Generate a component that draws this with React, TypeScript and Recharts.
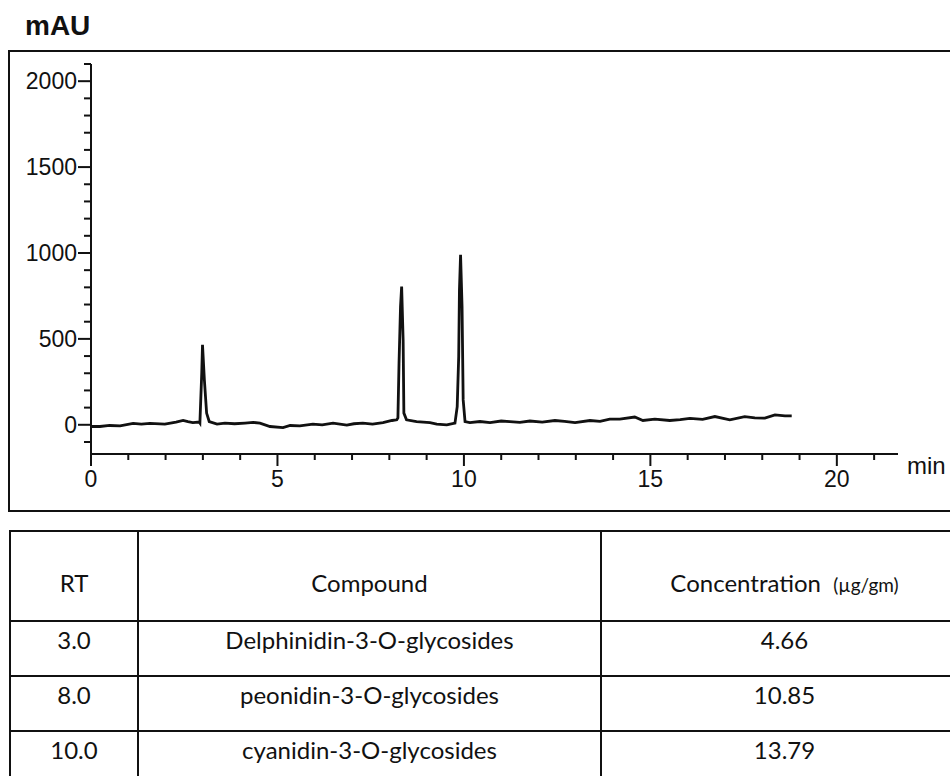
import React from 'react';
import { LineChart, Line, XAxis, YAxis } from 'recharts';

// retention time (min) and detector signal (mAU)
const times = [
  0, 0.24, 0.5, 0.78, 1.13, 1.35, 1.58, 1.98, 2.28, 2.47, 2.6, 2.73, 2.9,
  2.92, 2.97, 2.99, 3.04, 3.1, 3.17, 3.38, 3.59, 3.85, 4.13, 4.35, 4.53,
  4.8, 5.15, 5.34, 5.6, 5.95, 6.2, 6.49, 6.86, 7.05, 7.29, 7.55, 7.83, 8.07,
  8.2, 8.23, 8.26, 8.3, 8.33, 8.37, 8.39, 8.46, 8.73, 9.09,
  9.27, 9.54, 9.76, 9.82, 9.86, 9.88, 9.91, 9.95, 9.98, 10.03,
  10.16, 10.43, 10.7, 11.0, 11.23, 11.5, 11.77, 12.1, 12.44, 12.7, 12.98, 13.38, 13.65, 13.91, 14.18,
  14.58, 14.8, 15.12, 15.52, 15.8, 16.06, 16.4, 16.73, 17.13, 17.53, 17.8, 18.07, 18.34,
  18.61, 18.79,
];
const signal = [
  -10, -10, -4, -6, 8, 4, 8, 4, 16, 25, 18, 13, 16,
  10, 302, 465, 262, 68, 19, 4, 10, 6, 10, 14, 10,
  -10, -16, -4, -6, 4, 0, 10, -2, 6, 10, 4, 13, 25,
  29, 40, 359, 688, 804, 494, 68, 29, 19, 13,
  4, 0, 10, 106, 397, 785, 990, 688, 145, 19,
  13, 19, 13, 22, 19, 14, 22, 16, 25, 20, 13, 25, 20, 33, 33,
  45, 25, 33, 25, 30, 37, 32, 48, 29, 48, 40, 39, 58,
  52, 52,
];

const xTicks = [0, 1, 2, 3, 4, 5, 6, 7, 8, 9, 10, 11, 12, 13, 14, 15, 16, 17, 18, 19, 20, 21];
const yTicks = [
  -100, 0, 100, 200, 300, 400, 500, 600, 700, 800, 900, 1000,
  1100, 1200, 1300, 1400, 1500, 1600, 1700, 1800, 1900, 2000, 2100,
];

const rtValues = ['3.0', '8.0', '10.0'];
const compounds = [
  'Delphinidin-3-O-glycosides',
  'peonidin-3-O-glycosides',
  'cyanidin-3-O-glycosides',
];
const concentrations = ['4.66', '10.85', '13.79'];

const data = times.map((t, i) => ({ t, mAU: signal[i] }));

const ink = '#111';
const axisFont = '"Liberation Sans", Arial, sans-serif';
const tableFont = 'Lato, "Open Sans", sans-serif';

const YTick = (props: any) => {
  const { x, y, payload } = props;
  const major = payload.value % 500 === 0;
  return (
    <g>
      <line x1={x - (major ? 13 : 7)} x2={x} y1={y} y2={y} stroke={ink} strokeWidth={2} />
      {major && (
        <text x={x - 14} y={y + 8} textAnchor="end" fontFamily={axisFont} fontSize={23} fill={ink}>
          {payload.value}
        </text>
      )}
    </g>
  );
};

const XTick = (props: any) => {
  const { x, y, payload } = props;
  const major = payload.value % 5 === 0;
  return (
    <g>
      <line x1={x} x2={x} y1={y} y2={y + (major ? 12 : 6)} stroke={ink} strokeWidth={2} />
      {major && (
        <text x={x} y={y + 33} textAnchor="middle" fontFamily={axisFont} fontSize={23} fill={ink}>
          {payload.value}
        </text>
      )}
    </g>
  );
};

const cell: React.CSSProperties = {
  border: '2px solid #111',
  textAlign: 'center',
  padding: 0,
};

export default function App() {
  return (
    <div
      style={{
        position: 'absolute',
        left: 0,
        top: 0,
        width: 950,
        height: 776,
        overflow: 'hidden',
        background: '#fff',
      }}
    >
      {/* frame around the chromatogram */}
      <div
        style={{
          position: 'absolute',
          left: 8,
          top: 50,
          width: 1000,
          height: 458,
          border: '2px solid #111',
        }}
      />
      <div style={{ position: 'absolute', left: 0, top: 0 }}>
        <LineChart width={950} height={510} data={data} margin={{ top: 64, right: 52, left: 0, bottom: 0 }}>
          <XAxis
            dataKey="t"
            type="number"
            domain={[0, 21.64]}
            ticks={xTicks}
            interval={0}
            height={56}
            tickSize={0}
            tickMargin={0}
            tickLine={false}
            tick={<XTick />}
            axisLine={{ stroke: ink, strokeWidth: 2 }}
            allowDataOverflow
          />
          <YAxis
            type="number"
            domain={[-170, 2100]}
            ticks={yTicks}
            interval={0}
            width={91}
            tickSize={0}
            tickMargin={0}
            tickLine={false}
            tick={<YTick />}
            axisLine={{ stroke: ink, strokeWidth: 2 }}
            allowDataOverflow
          />
          <Line
            type="linear"
            dataKey="mAU"
            stroke={ink}
            strokeWidth={2.8}
            dot={false}
            isAnimationActive={false}
          />
        </LineChart>
      </div>
      <svg width={950} height={510} style={{ position: 'absolute', left: 0, top: 0, pointerEvents: 'none' }}>
        <text x={25} y={35} fontFamily={axisFont} fontWeight="bold" fontSize={28} fill={ink}>
          mAU
        </text>
        <text x={907} y={474} fontFamily={axisFont} fontSize={24} fill={ink}>
          min
        </text>
      </svg>
      <table
        style={{
          position: 'absolute',
          left: 9,
          top: 530,
          width: 960,
          borderCollapse: 'collapse',
          tableLayout: 'fixed',
          fontFamily: tableFont,
          fontSize: 24,
          color: ink,
        }}
      >
        <colgroup>
          <col style={{ width: 128 }} />
          <col style={{ width: 463 }} />
          <col />
        </colgroup>
        <tbody>
          <tr style={{ height: 90 }}>
            <td style={{ ...cell, paddingTop: 12 }}>RT</td>
            <td style={{ ...cell, paddingTop: 12 }}>Compound</td>
            <td style={{ ...cell, paddingTop: 12 }}>
              Concentration&nbsp;&nbsp;<span style={{ fontSize: 19 }}>(µg/gm)</span>
            </td>
          </tr>
          {rtValues.map((rt, i) => (
            <tr key={rt} style={{ height: 55 }}>
              <td style={{ ...cell, paddingBottom: 18 }}>{rt}</td>
              <td style={{ ...cell, paddingBottom: 18 }}>{compounds[i]}</td>
              <td style={{ ...cell, paddingBottom: 18 }}>{concentrations[i]}</td>
            </tr>
          ))}
        </tbody>
      </table>
    </div>
  );
}
